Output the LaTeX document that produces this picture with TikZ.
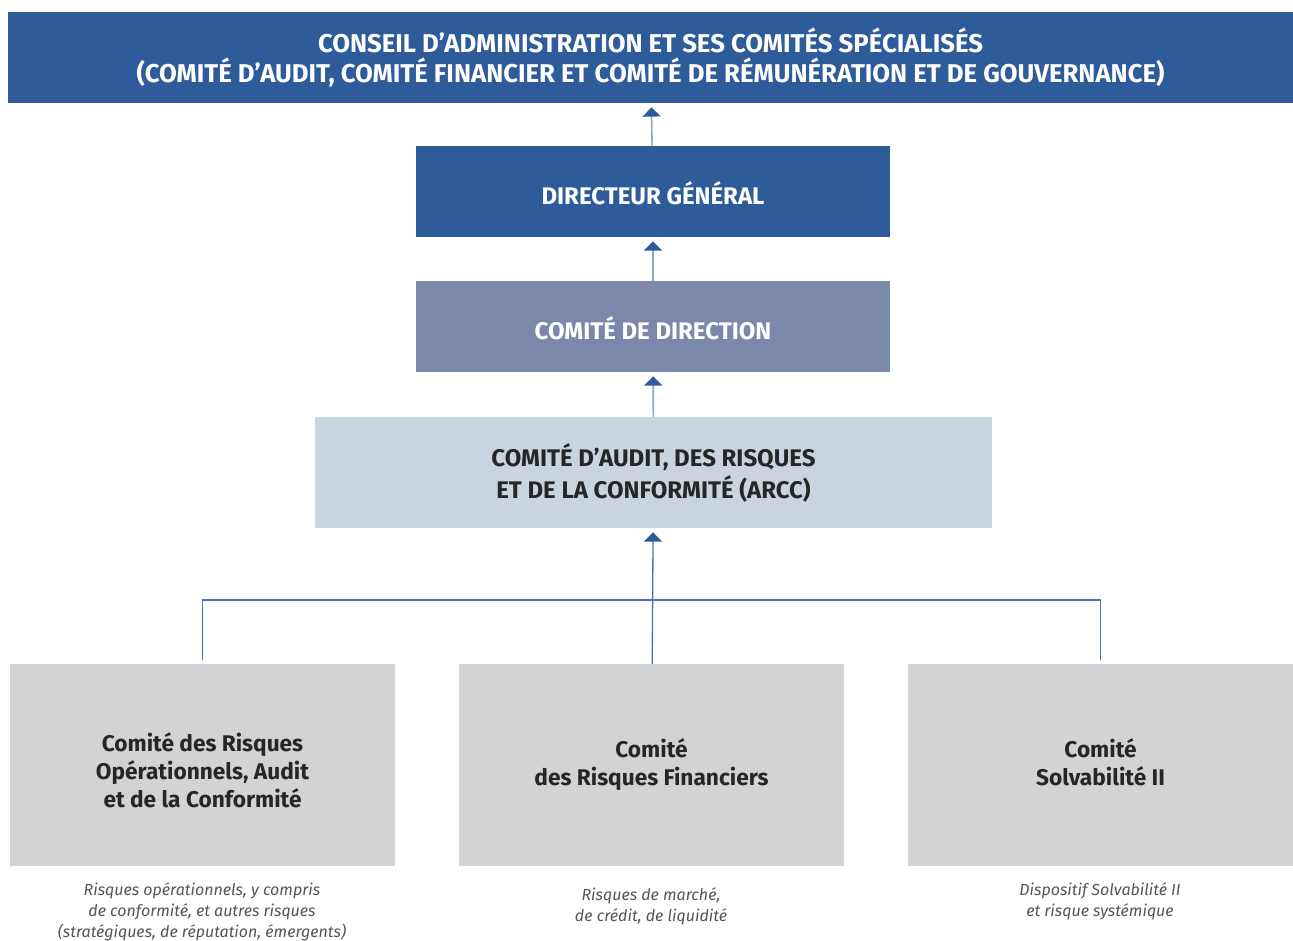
\documentclass[tikz,border=0pt]{standalone}
\usepackage{fontspec}
\setmainfont{Fira Sans}
\usetikzlibrary{arrows.meta}

\definecolor{bluedark}{HTML}{2E5B9A}
\definecolor{bluemid}{HTML}{7A88A9}
\definecolor{bluelight}{HTML}{C9D4DF}
\definecolor{greybox}{HTML}{D1D3D4}
\definecolor{linelight}{HTML}{8EA9D1}
\definecolor{linetree}{HTML}{4A72B5}
\definecolor{notegrey}{HTML}{555555}

\begin{document}
\begin{tikzpicture}[x=0.75pt, y=-0.75pt, line cap = round, line join = round]
\tikzstyle{box}=[inner sep=0pt, align=center, font=\bfseries\fontsize{18}{24}\selectfont]
\tikzstyle{boxdark}=[box, fill=bluedark, text=white, minimum width=355.5pt, minimum height=68.25pt,
  text height=19pt, text depth=0pt]
\tikzstyle{boxgrey}=[box, fill=greybox, text=black!85, minimum width=288.75pt, minimum height=151.5pt,
  font=\bfseries\fontsize{17}{21}\selectfont]
\tikzstyle{note}=[align=center, text=notegrey, font=\itshape\fontsize{12}{15.75}\selectfont]
\tikzstyle{uparrow}=[line width=1.2pt, color=linelight, shorten >=3pt,
  -{Triangle[width=13.5pt, length=7pt, color=bluedark]}]
\tikzstyle{treeline}=[line width=1pt, color=linetree]
\useasboundingbox (0,0) rectangle (1293,940);

% boxes, top to bottom
\node[box, fill=bluedark, text=white, minimum width=963.75pt, minimum height=68.25pt,
  font=\bfseries\fontsize{19.3}{22.5}\selectfont] (conseil) at (650.5,57.5)
  {CONSEIL D'ADMINISTRATION ET SES COMITÉS SPÉCIALISÉS\\
   (COMITÉ D'AUDIT, COMITÉ FINANCIER ET COMITÉ DE RÉMUNÉRATION ET DE GOUVERNANCE)};
\node[boxdark] (dg) at (653,191.5) {DIRECTEUR GÉNÉRAL};
\node[boxdark, fill=bluemid] (codir) at (653,326.5) {COMITÉ DE DIRECTION};
\node[box, fill=bluelight, text=black!85, minimum width=507.75pt, minimum height=83.25pt] (arcc) at (653.5,472.5)
  {COMITÉ D'AUDIT, DES RISQUES\\ ET DE LA CONFORMITÉ (ARCC)};

% committees (struts keep the lines where they belong)
\node[boxgrey] (crop) at (202.5,765) {\rule{0pt}{22pt}Comité des Risques\\ Opérationnels, Audit\\ et de la Conformité};
\node[boxgrey] (crf) at (651.5,765) {Comité\\ des Risques Financiers};
\node[boxgrey] (csol) at (1100.5,765) {Comité\\ Solvabilité II\rule[-4.5pt]{0pt}{0pt}};

% scope of each committee
\node[note, anchor=north] (crop note) at (202,878) {Risques opérationnels, y compris\\ de conformité, et autres risques\\ (stratégiques, de réputation, émergents)};
\node[note, anchor=north] (crf note) at (651,883) {Risques de marché,\\ de crédit, de liquidité};
\node[note, anchor=north] (csol note) at (1100,878) {Dispositif Solvabilité II\\ et risque systémique};

% reporting lines
\draw[uparrow] (dg) -- (conseil);
\draw[uparrow] (codir) -- (dg);
\draw[uparrow] (arcc) -- (codir);
\coordinate (bus) at (652,600);
\draw[treeline, shorten <=3pt, shorten >=3pt] (crop.north) |- (bus) -| (csol.north);
\draw[uparrow, color=linetree, line width=1pt] (crf) -- (arcc);
\end{tikzpicture}
\end{document}
